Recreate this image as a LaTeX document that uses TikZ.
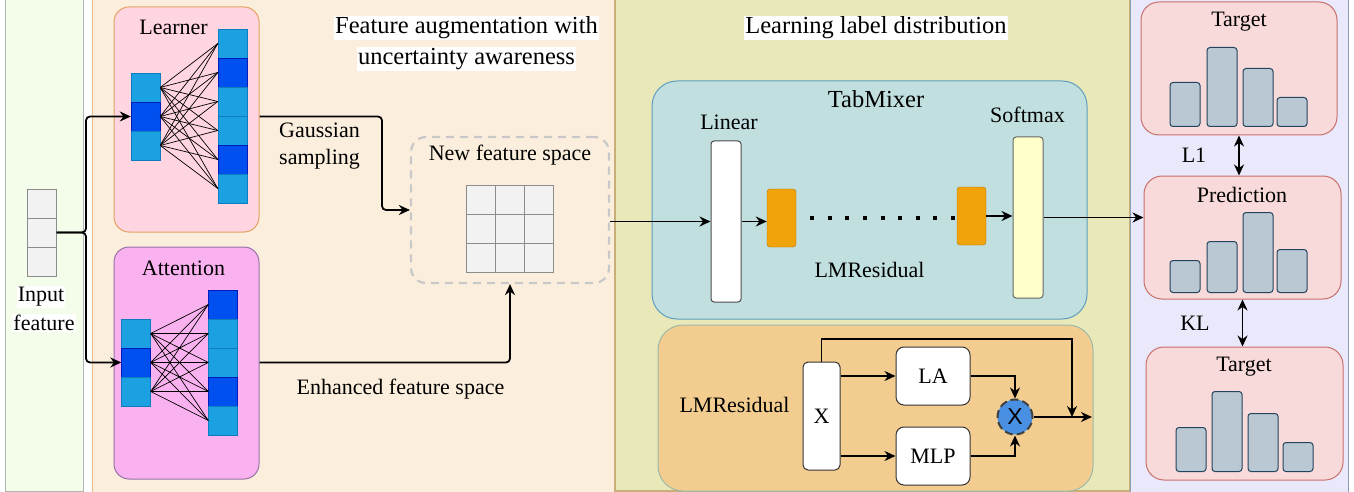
\documentclass[tikz,border=0pt]{standalone}
\usepackage{fontspec}
\setmainfont{Liberation Serif}
\newfontfamily\sansx{Liberation Sans}
\usetikzlibrary{arrows.meta}

\definecolor{pgreen}{HTML}{F4FDEA}
\definecolor{pgreenb}{HTML}{B4B4B4}
\definecolor{pbeige}{HTML}{FCEEDD}
\definecolor{pbeigeb}{HTML}{EDBA8A}
\definecolor{polive}{HTML}{E9E8B8}
\definecolor{poliveb}{HTML}{C9AE78}
\definecolor{plav}{HTML}{E9E9FB}
\definecolor{plavb}{HTML}{8A9EB6}
\definecolor{learnerfill}{HTML}{FFD5E1}
\definecolor{learnerdraw}{HTML}{E3A262}
\definecolor{attfill}{HTML}{FAB1EF}
\definecolor{attdraw}{HTML}{9673A6}
\definecolor{celllight}{HTML}{1BA1E2}
\definecolor{celllightb}{HTML}{0D7DC0}
\definecolor{celldark}{HTML}{0050EF}
\definecolor{celldarkb}{HTML}{001DBC}
\definecolor{gridfill}{HTML}{F2F2F2}
\definecolor{griddraw}{HTML}{8C8C8C}
\definecolor{dashgrey}{HTML}{C8C8C8}
\definecolor{tabfill}{HTML}{C1DFDF}
\definecolor{tabdraw}{HTML}{5E9EC0}
\definecolor{lmfill}{HTML}{F3CD8F}
\definecolor{lmdraw}{HTML}{9CB9AA}
\definecolor{blockfill}{HTML}{F0A30A}
\definecolor{blockdraw}{HTML}{BD7000}
\definecolor{softfill}{HTML}{FFFFCC}
\definecolor{mulfill}{HTML}{4A90E2}
\definecolor{distfill}{HTML}{F8DADA}
\definecolor{distdraw}{HTML}{C8706C}
\definecolor{barfill}{HTML}{BAC8D3}
\definecolor{bardraw}{HTML}{23445D}

\tikzset{
  txt/.style={font=\fontsize{22}{27}\selectfont, inner sep=1pt},
  bigtxt/.style={font=\fontsize{24.5}{30}\selectfont, inner sep=1pt},
  wbg/.style={fill=white},
  conn/.style={line width=1.8pt, -{Stealth[length=11pt,width=10pt]}},
  twoway/.style={line width=1.8pt, {Stealth[length=11pt,width=10pt]}-{Stealth[length=11pt,width=10pt]}},
  netline/.style={line width=0.7pt},
  cellL/.style={draw=celllightb, fill=celllight, minimum width=29, minimum height=29, inner sep=0pt},
  cellD/.style={cellL, draw=celldarkb, fill=celldark},
  gridcell/.style={draw=griddraw, fill=gridfill, line width=1pt, minimum width=29, minimum height=29, inner sep=0pt},
  roundbox/.style={rounded corners=15pt, inner sep=0pt, line width=1pt},
  distbar/.style={draw=bardraw, fill=barfill, rounded corners=3pt, minimum width=30, inner sep=0pt, anchor=south, line width=1pt},
  whitebox/.style={draw=black!80, fill=white, rounded corners=5pt, inner sep=0pt, line width=1pt},
  blockbox/.style={draw=blockdraw, fill=blockfill, rounded corners=3pt, minimum width=29, minimum height=58, inner sep=0pt},
  dotrow/.style={line width=4pt, dash pattern=on 4pt off 13.6pt},
}

\begin{document}
\begin{tikzpicture}[x=1pt,y=-1pt]
  \useasboundingbox (0,0) rectangle (1354,492);

  % panels
  \filldraw[fill=pgreen, draw=pgreenb] (5,-2) rectangle (83,491);
  \filldraw[fill=pbeige, draw=pbeigeb] (92,-2) rectangle (615,495);
  \filldraw[fill=polive, draw=poliveb, line width=1.5pt] (615,-2) rectangle (1130,491);
  \filldraw[fill=plav, draw=plavb] (1130,-2) rectangle (1348,495);

  % input feature
  \foreach \i in {1,2,3}
    \node[gridcell] (in\i) at (41.5,174.5+29*\i) {};
  \node[txt, wbg] (inlbl1) at (41,297) {Input};
  \node[txt, wbg] (inlbl2) at (44,323) {feature};

  % learner
  \node[roundbox, draw=learnerdraw, fill=learnerfill, minimum width=145, minimum height=225] (learner) at (186.5,119.5) {};
  \node[txt] (learnerlbl) at (173.5,27) {Learner};
  \foreach \c [count=\i] in {L,D,L}
    \node[cell\c] (ll\i) at (145.5,58.5+29*\i) {};
  \foreach \c [count=\i] in {L,D,L,L,D,L}
    \node[cell\c] (lr\i) at (232.5,14.5+29*\i) {};
  \foreach \i in {1,2,3}
    \foreach \j in {1,...,6}
      \draw[netline] (ll\i.east) -- (lr\j.west);

  % attention
  \node[roundbox, draw=attdraw, fill=attfill, minimum width=145, minimum height=232] (attention) at (186.5,363) {};
  \node[txt] (attlbl) at (183.5,268) {Attention};
  \foreach \c [count=\i] in {L,D,L}
    \node[cell\c] (al\i) at (136,304.5+29*\i) {};
  \foreach \c [count=\i] in {D,L,L,D,L}
    \node[cell\c] (ar\i) at (223,275.5+29*\i) {};
  \foreach \i in {1,2,3}
    \foreach \j in {1,...,5}
      \draw[netline] (al\i.east) -- (ar\j.west);

  % new feature space
  \node[roundbox, draw=dashgrey, line width=2.2pt, dash pattern=on 8pt off 6pt, minimum width=198, minimum height=146] (newbox) at (510,210) {};
  \node[txt] (newlbl) at (510,155) {New feature space};
  \foreach \r in {1,2,3}
    \foreach \c in {1,2,3}
      \node[gridcell] (g\r\c) at (451.5+29*\c,170.5+29*\r) {};

  % titles and labels
  \node[bigtxt, wbg] (augttl1) at (466.5,28) {Feature augmentation with};
  \node[bigtxt, wbg] (augttl2) at (466.5,59) {uncertainty awareness};
  \node[bigtxt, wbg] (ldlttl) at (876,28) {Learning label distribution};
  \node[txt, align=left, anchor=west] (gausslbl) at (278,146.5) {Gaussian\\sampling};
  \node[txt] (enhlbl) at (400.5,389) {Enhanced feature space};

  % input connectors
  \coordinate (split) at (86,232.5);
  \draw[conn, rounded corners=4pt] (in2.east) -- (split) |- (ll2.west);
  \draw[conn, rounded corners=4pt] (in2.east) -- (split) |- (al2.west);
  \coordinate (gs) at (382,116.5);
  \draw[conn, rounded corners=4pt] (learner.east |- gs) -- (gs) |- (newbox.west);
  \draw[conn, rounded corners=4pt] (attention.east |- al2) -| (newbox.south);

  % tabmixer
  \node[roundbox, rounded corners=25pt, draw=tabdraw, fill=tabfill, minimum width=435, minimum height=238] (tabmixer) at (869.5,200) {};
  \node[bigtxt] (tablbl) at (876,99) {TabMixer};
  \node[whitebox, rounded corners=3pt, draw=black!70, minimum width=30, minimum height=161] (linear) at (726,221.5) {};
  \node[txt] (linlbl) at (729,122.5) {Linear};
  \node[blockbox] (block1) at (781.5,218) {};
  \node[blockbox] (block2) at (971.5,216) {};
  \node[whitebox, rounded corners=3pt, draw=black!60, fill=softfill, minimum width=30, minimum height=161] (softmax) at (1028,217.5) {};
  \node[txt] (softlbl) at (1027.5,114.5) {Softmax};
  \node[txt] (resid1lbl) at (869.5,270) {LMResidual};
  \draw[dotrow, shorten <=14pt] (block1.east) -- (block1.east -| block2.west);
  \draw[conn] (linear.west -| newbox.east) -- (linear.west);
  \draw[conn] (linear.east) -- (linear.east -| block1.west);
  \draw[conn] (block2.east) -- (block2.east -| softmax.west);

  % lmresidual
  \node[roundbox, rounded corners=25pt, draw=lmdraw, fill=lmfill, minimum width=435, minimum height=166] (lmres) at (875.5,408) {};
  \node[txt] (resid2lbl) at (734.5,405) {LMResidual};
  \node[whitebox, txt, inner sep=0pt, minimum width=37, minimum height=108] (xbox) at (821.5,416) {X};
  \node[whitebox, txt, inner sep=0pt, rounded corners=8pt, minimum width=74, minimum height=58] (la) at (933,376) {LA};
  \node[whitebox, txt, inner sep=0pt, rounded corners=8pt, minimum width=74, minimum height=58] (mlp) at (933,456) {MLP};
  \node[circle, draw=black!75, line width=2pt, dash pattern=on 8pt off 4pt, fill=mulfill, minimum size=35, inner sep=0pt, font=\fontsize{23}{23}\sansx] (mul) at (1015,417) {X};
  \draw[conn] (xbox.east |- la.west) -- (la.west);
  \draw[conn] (xbox.east |- mlp.west) -- (mlp.west);
  \draw[conn] (la.east) -| (mul.north);
  \draw[conn] (mlp.east) -| (mul.south);
  \coordinate (skip) at (1072,339);
  \coordinate (lmout) at (1092,417);
  \draw[conn] (xbox.north) |- (skip) -- (skip |- mul.east);
  \draw[conn] (mul.east) -- (lmout);

  % distributions
  \node[roundbox, rounded corners=18pt, draw=distdraw, fill=distfill, minimum width=196, minimum height=133] (tgt1) at (1239,68.5) {};
  \node[txt] (tgt1lbl) at (1239,21.5) {Target};
  \foreach \x/\h [count=\i] in {1185/44,1222/79,1258/58,1292/29}
    \node[distbar, minimum height=\h] (tga\i) at (\x,127) {};
  \node[roundbox, rounded corners=18pt, draw=distdraw, fill=distfill, minimum width=197, minimum height=123] (pred) at (1242.5,237.5) {};
  \node[txt] (predlbl) at (1242,195) {Prediction};
  \foreach \x/\h [count=\i] in {1185/32,1222/51,1258/80,1292/43}
    \node[distbar, minimum height=\h] (pra\i) at (\x,293) {};
  \node[roundbox, rounded corners=18pt, draw=distdraw, fill=distfill, minimum width=197, minimum height=133] (tgt2) at (1244.5,413.5) {};
  \node[txt] (tgt2lbl) at (1244,366.5) {Target};
  \foreach \x/\h [count=\i] in {1191/44,1227/80,1263/58,1298/29}
    \node[distbar, minimum height=\h] (tgb\i) at (\x,472) {};

  \draw[conn] (softmax.east) -- (softmax.east -| pred.west);
  \draw[twoway] (tgt1.south) -- (tgt1.south |- pred.north);
  \draw[twoway] (pred.south) -- (pred.south |- tgt2.north);
  \node[txt] (l1lbl) at (1194,155) {L1};
  \node[txt] (kllbl) at (1195,323) {KL};

\end{tikzpicture}
\end{document}
